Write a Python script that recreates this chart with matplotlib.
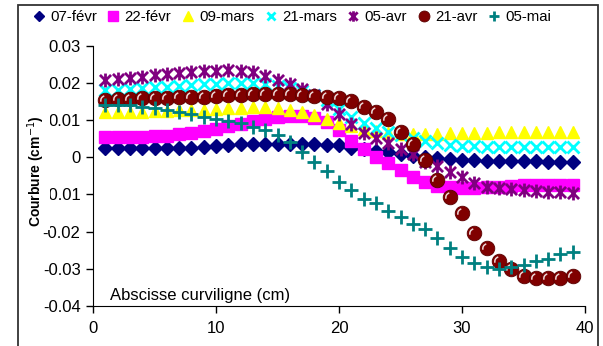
"""
Courbure le long de l'abscisse curviligne — 7 dates de mesure
"""
import numpy as np
import matplotlib
matplotlib.use('Agg')
import matplotlib.pyplot as plt
from matplotlib.path import Path
from matplotlib.patches import Rectangle

plt.rcParams['font.family'] = ['Liberation Sans', 'DejaVu Sans']

abscisse = list(range(1, 40))

fevr07 = [0.0025, 0.0025, 0.0025, 0.0025, 0.0025, 0.0025, 0.0025, 0.0025, 0.0027, 0.0031,
          0.0034, 0.0035, 0.0035, 0.0036, 0.0036, 0.0036, 0.0035, 0.0035, 0.0034, 0.0032,
          0.0026, 0.0021, 0.0017, 0.0013, 0.0008, 0.0004, 0.0000, -0.0003, -0.0005, -0.0007,
          -0.0008, -0.0009, -0.0010, -0.0010, -0.0011, -0.0011, -0.0012, -0.0013, -0.0014]
fevr22 = [0.0055, 0.0055, 0.0055, 0.0055, 0.0056, 0.0058, 0.0062, 0.0066, 0.0071, 0.0077,
          0.0083, 0.0090, 0.0097, 0.0103, 0.0108, 0.0110, 0.0110, 0.0106, 0.0094, 0.0072,
          0.0045, 0.0022, 0.0002, -0.0016, -0.0034, -0.0052, -0.0067, -0.0077, -0.0081, -0.0082,
          -0.0082, -0.0081, -0.0079, -0.0077, -0.0075, -0.0074, -0.0074, -0.0074, -0.0074]
mars09 = [0.0122, 0.0122, 0.0122, 0.0123, 0.0124, 0.0125, 0.0126, 0.0127, 0.0128, 0.0130,
          0.0132, 0.0133, 0.0134, 0.0134, 0.0132, 0.0127, 0.0121, 0.0114, 0.0102, 0.0092,
          0.0083, 0.0076, 0.0070, 0.0066, 0.0063, 0.0062, 0.0062, 0.0063, 0.0064, 0.0065,
          0.0066, 0.0066, 0.0067, 0.0067, 0.0067, 0.0068, 0.0068, 0.0068, 0.0068]
mars21 = [0.0180, 0.0182, 0.0184, 0.0186, 0.0188, 0.0190, 0.0192, 0.0194, 0.0196, 0.0198,
          0.0200, 0.0200, 0.0200, 0.0198, 0.0192, 0.0185, 0.0178, 0.0168, 0.0155, 0.0130,
          0.0108, 0.0092, 0.0080, 0.0068, 0.0059, 0.0051, 0.0044, 0.0038, 0.0034, 0.0031,
          0.0029, 0.0028, 0.0028, 0.0028, 0.0028, 0.0028, 0.0028, 0.0028, 0.0028]
avr05 = [0.0208, 0.0210, 0.0212, 0.0216, 0.0220, 0.0223, 0.0226, 0.0229, 0.0232, 0.0233,
         0.0234, 0.0233, 0.0230, 0.0218, 0.0208, 0.0196, 0.0183, 0.0168, 0.0142, 0.0116,
         0.0090, 0.0066, 0.0052, 0.0038, 0.0022, 0.0008, -0.0013, -0.0024, -0.0040, -0.0052,
         -0.0068, -0.0080, -0.0084, -0.0086, -0.0088, -0.0092, -0.0093, -0.0093, -0.0095]
avr21 = [0.0155, 0.0157, 0.0158, 0.0159, 0.0160, 0.0160, 0.0161, 0.0161, 0.0163, 0.0165,
         0.0167, 0.0167, 0.0169, 0.0169, 0.0169, 0.0169, 0.0167, 0.0166, 0.0163, 0.0159,
         0.0150, 0.0136, 0.0122, 0.0102, 0.0068, 0.0035, -0.0007, -0.0062, -0.0108, -0.0150,
         -0.0204, -0.0244, -0.0279, -0.0301, -0.0319, -0.0325, -0.0325, -0.0325, -0.0319]
mai05 = [0.0141, 0.0141, 0.0141, 0.0136, 0.0132, 0.0127, 0.0122, 0.0116, 0.0109, 0.0103,
         0.0098, 0.0092, 0.0082, 0.0073, 0.0060, 0.0041, 0.0014, -0.0014, -0.0037, -0.0067,
         -0.0089, -0.0112, -0.0123, -0.0144, -0.0161, -0.0180, -0.0193, -0.0217, -0.0244, -0.0268,
         -0.0285, -0.0295, -0.0301, -0.0295, -0.0290, -0.0279, -0.0274, -0.0260, -0.0255]

labels = ['07-févr', '22-févr', '09-mars', '21-mars', '05-avr', '21-avr', '05-mai']
yticks = [-0.04, -0.03, -0.02, -0.01, 0, 0.01, 0.02, 0.03]
ytick_labels = ['-0.04', '-0.03', '-0.02', '-0.01', '0', '0.01', '0.02', '0.03']
xticks = [0, 10, 20, 30, 40]

# marqueur "étoile" Excel : croix + barre verticale
star = Path([(-1, -1), (1, 1), (-1, 1), (1, -1), (0, -1.25), (0, 1.25)],
            [Path.MOVETO, Path.LINETO, Path.MOVETO, Path.LINETO, Path.MOVETO, Path.LINETO])
# reflet blanc sur les sphères
reflet = Path.arc(105, 195)

fig = plt.figure(figsize=(6.03, 3.46), dpi=100)
ax = fig.add_axes([93 / 603, 1 - 306 / 346, 492 / 603, (306 - 45.7) / 346])

ax.plot(abscisse, fevr07, ls='none', marker='D', ms=7, color='#000080', label=labels[0])
ax.plot(abscisse, fevr22, ls='none', marker='s', ms=9, color='#FF00FF', label=labels[1])
ax.plot(abscisse, mars09, ls='none', marker='^', ms=9, color='#FFFF00', label=labels[2])
ax.plot(abscisse, mars21, ls='none', marker='x', ms=8, mew=2, color='#00FFFF', label=labels[3])
ax.plot(abscisse, avr05, ls='none', marker=star, ms=10, mew=2, mfc='none',
        color='#800080', label=labels[4])
ax.plot(abscisse, avr21, ls='none', marker='o', ms=10.5, color='#800000',
        mec='#5a0000', mew=0.6, label=labels[5])
ax.plot(abscisse, avr21, ls='none', marker=reflet, ms=7, mew=1.1, mfc='none',
        mec='white', alpha=0.85)
ax.plot(abscisse, mai05, ls='none', marker='+', ms=10, mew=2, color='#008080', label=labels[6])

ax.set_xlim(0, 40)
ax.set_ylim(-0.04, 0.03)
ax.set_xticks(xticks)
ax.set_yticks(yticks)
ax.set_yticklabels(ytick_labels)
for s in ['top', 'right']:
    ax.spines[s].set_visible(False)
ax.tick_params(direction='out', length=5, labelsize=12, width=1)
ax.tick_params(axis='x', pad=6)
ax.tick_params(axis='y', pad=4)

ax.text(1.4, -0.0372, 'Abscisse curviligne (cm)', fontsize=12, va='center', ha='left')

fig.text(36 / 603, 1 - 171 / 346, 'Courbure (cm$^{-1}$)', rotation=90, ha='center',
         va='center', fontsize=10, fontweight='bold',
         bbox=dict(facecolor='white', edgecolor='none', pad=2.5))

fig.legend(loc='upper left', bbox_to_anchor=(26 / 603, 1 - 4 / 346), ncol=7, frameon=False,
           fontsize=10.8, markerscale=0.75, handlelength=0.9, handletextpad=0.3,
           columnspacing=0.65, borderaxespad=0)

fig.add_artist(Rectangle((18 / 603, -0.05), 580 / 603, 1.05 - 5 / 346, transform=fig.transFigure,
                         fill=False, edgecolor='#333333', lw=1.3, clip_on=False))

plt.savefig('out.png', dpi=100)
plt.close()
